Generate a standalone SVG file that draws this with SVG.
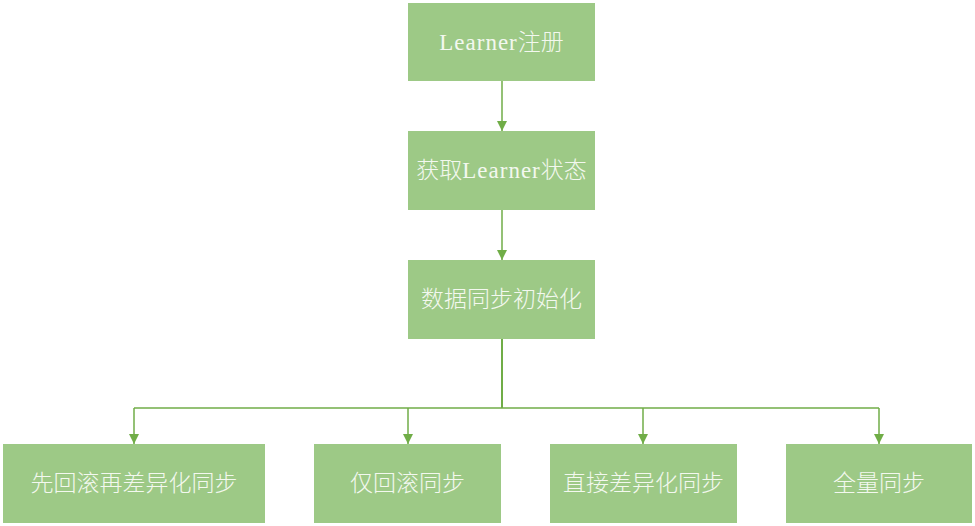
<svg xmlns="http://www.w3.org/2000/svg" width="975" height="526" viewBox="0 0 975 526">
<style>
.box{fill:#9DC986;}
.lbl{font-family:"Noto Sans CJK SC","Liberation Sans",sans-serif;font-size:23px;font-weight:300;fill:#F3F8EF;text-anchor:middle;}
.lat{font-family:"Liberation Serif","Noto Sans CJK SC",serif;font-weight:normal;letter-spacing:1px;}
.ln{fill:none;stroke:#70AD47;stroke-width:1.5;}
</style>
<defs>
<marker id="ah" viewBox="0 0 10 10" refX="10" refY="5" markerWidth="10" markerHeight="10" markerUnits="userSpaceOnUse" orient="auto">
<path d="M0,0 L10,5 L0,10 z" fill="#70AD47"/>
</marker>
</defs>
<g id="connectors">
<line class="ln" x1="502" y1="81" x2="502" y2="131" marker-end="url(#ah)"/>
<line class="ln" x1="502" y1="210" x2="502" y2="260" marker-end="url(#ah)"/>
<line class="ln" x1="502" y1="339" x2="502" y2="408" style="stroke-width:2"/>
<line class="ln" x1="134" y1="408" x2="879" y2="408"/>
<line class="ln" x1="134" y1="408" x2="134" y2="444" marker-end="url(#ah)"/>
<line class="ln" x1="408" y1="408" x2="408" y2="444" marker-end="url(#ah)"/>
<line class="ln" x1="643" y1="408" x2="643" y2="444" marker-end="url(#ah)"/>
<line class="ln" x1="879" y1="408" x2="879" y2="444" marker-end="url(#ah)"/>
</g>
<g id="n1"><rect class="box" x="408" y="3" width="187" height="78"/><text class="lbl" x="501.5" y="50"><tspan class="lat">Learner</tspan>注册</text></g>
<g id="n2"><rect class="box" x="408" y="131" width="187" height="79"/><text class="lbl" x="501.5" y="178"><tspan>获取</tspan><tspan class="lat">Learner</tspan><tspan>状态</tspan></text></g>
<g id="n3"><rect class="box" x="408" y="260" width="187" height="79"/><text class="lbl" x="501.5" y="307">数据同步初始化</text></g>
<g id="n4"><rect class="box" x="3" y="444" width="262" height="79"/><text class="lbl" x="134" y="491">先回滚再差异化同步</text></g>
<g id="n5"><rect class="box" x="314" y="444" width="187" height="79"/><text class="lbl" x="407.5" y="491">仅回滚同步</text></g>
<g id="n6"><rect class="box" x="550" y="444" width="187" height="79"/><text class="lbl" x="643.5" y="491">直接差异化同步</text></g>
<g id="n7"><rect class="box" x="786" y="444" width="186" height="79"/><text class="lbl" x="879" y="491">全量同步</text></g>
</svg>
